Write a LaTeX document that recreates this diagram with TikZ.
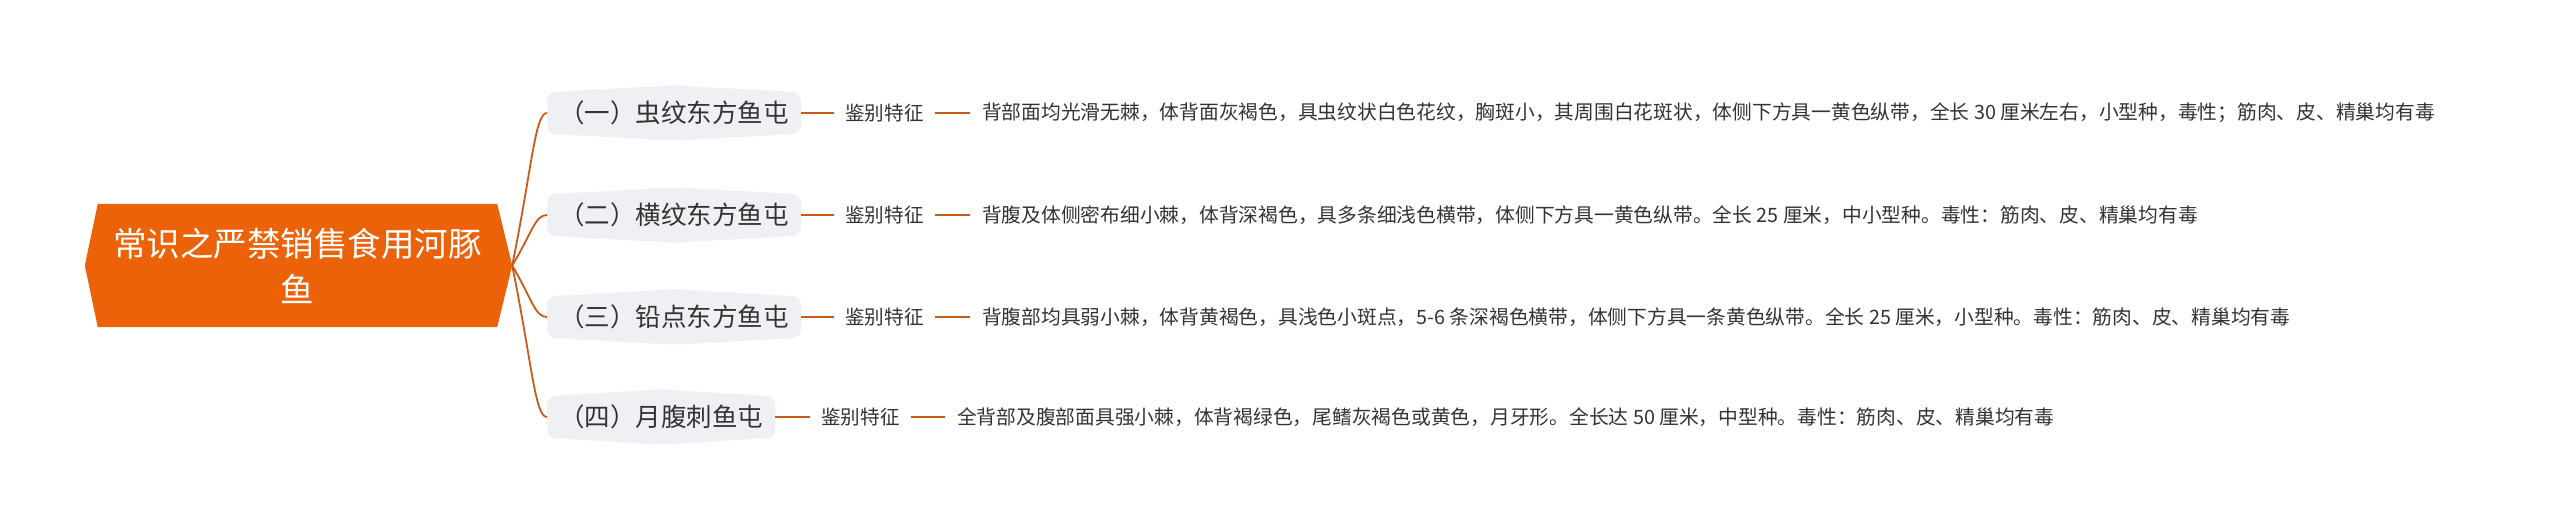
\documentclass[tikz,border=0pt]{standalone}
\usepackage{fontspec}
\newfontfamily\cjk{Noto Sans CJK SC}
\usetikzlibrary{backgrounds}
\definecolor{rootfill}{HTML}{EB6209}
\definecolor{linkcol}{HTML}{C95A18}
\definecolor{boxfill}{HTML}{EEF0F3}
\definecolor{txt}{HTML}{333333}
\tikzset{
  link/.style={draw=linkcol, line width=1.8pt},
  rootnode/.style={text=white, font=\cjk\fontsize{33.5}{46}\selectfont, align=center, minimum width=399pt, minimum height=123pt, inner sep=0pt},
  fishbox/.style={font=\cjk\fontsize{25.5}{30}\selectfont, text=txt, anchor=west, inner xsep=12pt, inner ysep=0pt, minimum height=41pt},
  keynode/.style={font=\cjk\fontsize{19.6}{24}\selectfont, text=txt, anchor=west, inner xsep=11pt, inner ysep=0pt},
  descnode/.style={font=\cjk\fontsize{19.75}{24}\selectfont, text=txt, anchor=west, inner xsep=12pt, inner ysep=0pt},
}
\begin{document}
\begin{tikzpicture}[x=1pt,y=-1pt]
\useasboundingbox (0,0) rectangle (2560,531);
\node[rootnode] (root) at (297.5,265.5) {常识之严禁销售食用河豚\\鱼};
\coordinate (tip) at ([xshift=15pt]root.east);
% branch 1
\node[fishbox] (b1) at (547,113) {（一）虫纹东方鱼屯};
\node[keynode] (k1) at (834,113) {鉴别特征};
\node[descnode] (d1) at (970,113) {背部面均光滑无棘，体背面灰褐色，具虫纹状白色花纹，胸斑小，其周围白花斑状，体侧下方具一黄色纵带，全长 30 厘米左右，小型种，毒性；筋肉、皮、精巢均有毒};
\draw[link] (b1) -- (k1);
\draw[link] (k1) -- (d1);
% branch 2
\node[fishbox] (b2) at (547,215) {（二）横纹东方鱼屯};
\node[keynode] (k2) at (834,215) {鉴别特征};
\node[descnode] (d2) at (970,215) {背腹及体侧密布细小棘，体背深褐色，具多条细浅色横带，体侧下方具一黄色纵带。全长 25 厘米，中小型种。毒性：筋肉、皮、精巢均有毒};
\draw[link] (b2) -- (k2);
\draw[link] (k2) -- (d2);
% branch 3
\node[fishbox] (b3) at (547,317) {（三）铅点东方鱼屯};
\node[keynode] (k3) at (834,317) {鉴别特征};
\node[descnode] (d3) at (970,317) {背腹部均具弱小棘，体背黄褐色，具浅色小斑点，5-6 条深褐色横带，体侧下方具一条黄色纵带。全长 25 厘米，小型种。毒性：筋肉、皮、精巢均有毒};
\draw[link] (b3) -- (k3);
\draw[link] (k3) -- (d3);
% branch 4
\node[fishbox] (b4) at (547,417) {（四）月腹刺鱼屯};
\node[keynode] (k4) at (810,417) {鉴别特征};
\node[descnode] (d4) at (945,417) {全背部及腹部面具强小棘，体背褐绿色，尾鳍灰褐色或黄色，月牙形。全长达 50 厘米，中型种。毒性：筋肉、皮、精巢均有毒};
\draw[link] (b4) -- (k4);
\draw[link] (k4) -- (d4);
% root to branches
\draw[link] (tip) .. controls +(20,-99) and +(-12,0) .. (b1.west);
\draw[link] (tip) .. controls +(20,-33) and +(-12,0) .. (b2.west);
\draw[link] (tip) .. controls +(20,34) and +(-12,0) .. (b3.west);
\draw[link] (tip) .. controls +(20,99) and +(-12,0) .. (b4.west);
\begin{scope}[on background layer]
\fill[rootfill] (root.north west) -- (root.north east) -- (tip) -- (root.south east) -- (root.south west) -- ([xshift=-13pt]root.west) -- cycle;
\foreach \b in {b1,b2,b3,b4}
  \fill[boxfill, rounded corners=8pt] (\b.north west) -- ([yshift=7pt]\b.north) -- (\b.north east) -- (\b.south east) -- ([yshift=-7pt]\b.south) -- (\b.south west) -- cycle;
\end{scope}
\end{tikzpicture}
\end{document}
